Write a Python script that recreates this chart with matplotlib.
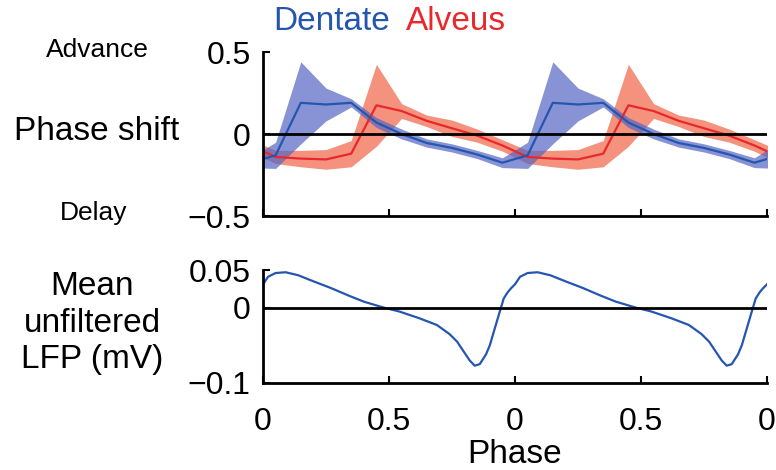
import matplotlib
matplotlib.use('Agg')
import matplotlib.pyplot as plt
import numpy as np

plt.rcParams['font.family'] = ['Liberation Sans', 'DejaVu Sans']

# phase bin centres (one cycle)
bin_centres = [0.05, 0.15, 0.25, 0.35, 0.45, 0.55, 0.65, 0.75, 0.85, 0.95]

# phase shift, mean and error per bin
dentate_mean = [-0.13, 0.19, 0.18, 0.19, 0.07, 0.0, -0.055, -0.085, -0.125, -0.175]
dentate_err = [0.08, 0.25, 0.10, 0.025, 0.03, 0.03, 0.025, 0.025, 0.025, 0.03]
alveus_mean = [-0.14, -0.15, -0.155, -0.12, 0.175, 0.14, 0.08, 0.035, -0.01, -0.07]
alveus_err = [0.04, 0.05, 0.06, 0.08, 0.25, 0.045, 0.035, 0.05, 0.04, 0.035]

# mean unfiltered LFP over one cycle
lfp_phase = [0.0, 0.02, 0.05, 0.09, 0.14, 0.2, 0.27, 0.34, 0.4, 0.48, 0.54, 0.62,
             0.69, 0.74, 0.77, 0.8, 0.82, 0.84, 0.86, 0.885, 0.9, 0.93, 0.955, 0.97, 0.985]
lfp_mv = [0.031, 0.041, 0.046, 0.047, 0.043, 0.035, 0.026, 0.016, 0.008, 0.0, -0.005, -0.014,
          -0.023, -0.035, -0.045, -0.060, -0.070, -0.077, -0.075, -0.062, -0.050, -0.016, 0.012,
          0.020, 0.026]

x_ticks = [0, 0.5, 1, 1.5, 2]
x_tick_labels = ['0', '0.5', '0', '0.5', '0']

blue_line = '#2456b0'
blue_fill = '#5565c2'
red_line = '#e8282a'
red_fill = '#f06448'


def two_cycles(vals):
    # wrap one bin on each side, then repeat for two cycles
    v = list(vals)
    return np.array([v[-1]] + v + v + [v[0]])


xc = np.array([bin_centres[-1] - 1] + bin_centres + [b + 1 for b in bin_centres] + [bin_centres[0] + 2])

fig = plt.figure(figsize=(7.76, 4.70), dpi=100)
ax1 = fig.add_axes([263/776, 1 - 216/470, 504/776, 164/470])
ax2 = fig.add_axes([263/776, 1 - 383/470, 504/776, 113/470])

for mean, err, fc in [(alveus_mean, alveus_err, red_fill),
                      (dentate_mean, dentate_err, blue_fill)]:
    m = two_cycles(mean)
    e = two_cycles(err)
    ax1.fill_between(xc, m - e, m + e, color=fc, alpha=0.7, linewidth=0)
for mean, lc in [(alveus_mean, red_line), (dentate_mean, blue_line)]:
    ax1.plot(xc, two_cycles(mean), color=lc, lw=1.6)

ax1.axhline(0, color='black', lw=2)
ax1.set_xlim(0, 2)
ax1.set_ylim(-0.5, 0.5)
ax1.set_yticks([-0.5, 0, 0.5])
ax1.set_yticklabels(['\u22120.5', '0', '0.5'])
ax1.set_xticks(x_ticks)
ax1.set_xticklabels([])

lp = np.array(lfp_phase)
lv = np.array(lfp_mv)
ax2.plot(np.concatenate([lp, lp + 1, [2.0]]), np.concatenate([lv, lv, [lv[0]]]),
         color=blue_line, lw=1.6)
ax2.axhline(0, color='black', lw=2)
ax2.set_xlim(0, 2)
ax2.set_ylim(-0.1, 0.05)
ax2.set_yticks([-0.1, 0, 0.05])
ax2.set_yticklabels(['\u22120.1', '0', '0.05'])
ax2.set_xticks(x_ticks)
ax2.set_xticklabels(x_tick_labels)

for ax in (ax1, ax2):
    for s in ('top', 'right'):
        ax.spines[s].set_visible(False)
    for s in ('left', 'bottom'):
        ax.spines[s].set_linewidth(2)
    ax.tick_params(direction='in', length=5, width=1.5, labelsize=23)
    ax.tick_params(axis='y', pad=9)
    ax.tick_params(axis='x', pad=17)

ax2.set_xlabel('Phase', fontsize=24, labelpad=2)

fig.text(332/776, 1 - 22/470, 'Dentate', color=blue_line, fontsize=24, ha='center', va='center')
fig.text(456/776, 1 - 22/470, 'Alveus', color=red_line, fontsize=24, ha='center', va='center')
fig.text(97/776, 1 - 50/470, 'Advance', fontsize=19, ha='center', va='center')
fig.text(97/776, 1 - 131/470, 'Phase shift', fontsize=24, ha='center', va='center')
fig.text(94/776, 1 - 213/470, 'Delay', fontsize=19, ha='center', va='center')
fig.text(92/776, 1 - 323/470, 'Mean\nunfiltered\nLFP (mV)', fontsize=24, ha='center', va='center',
         linespacing=1.22)

fig.savefig('out.png', dpi=100)
